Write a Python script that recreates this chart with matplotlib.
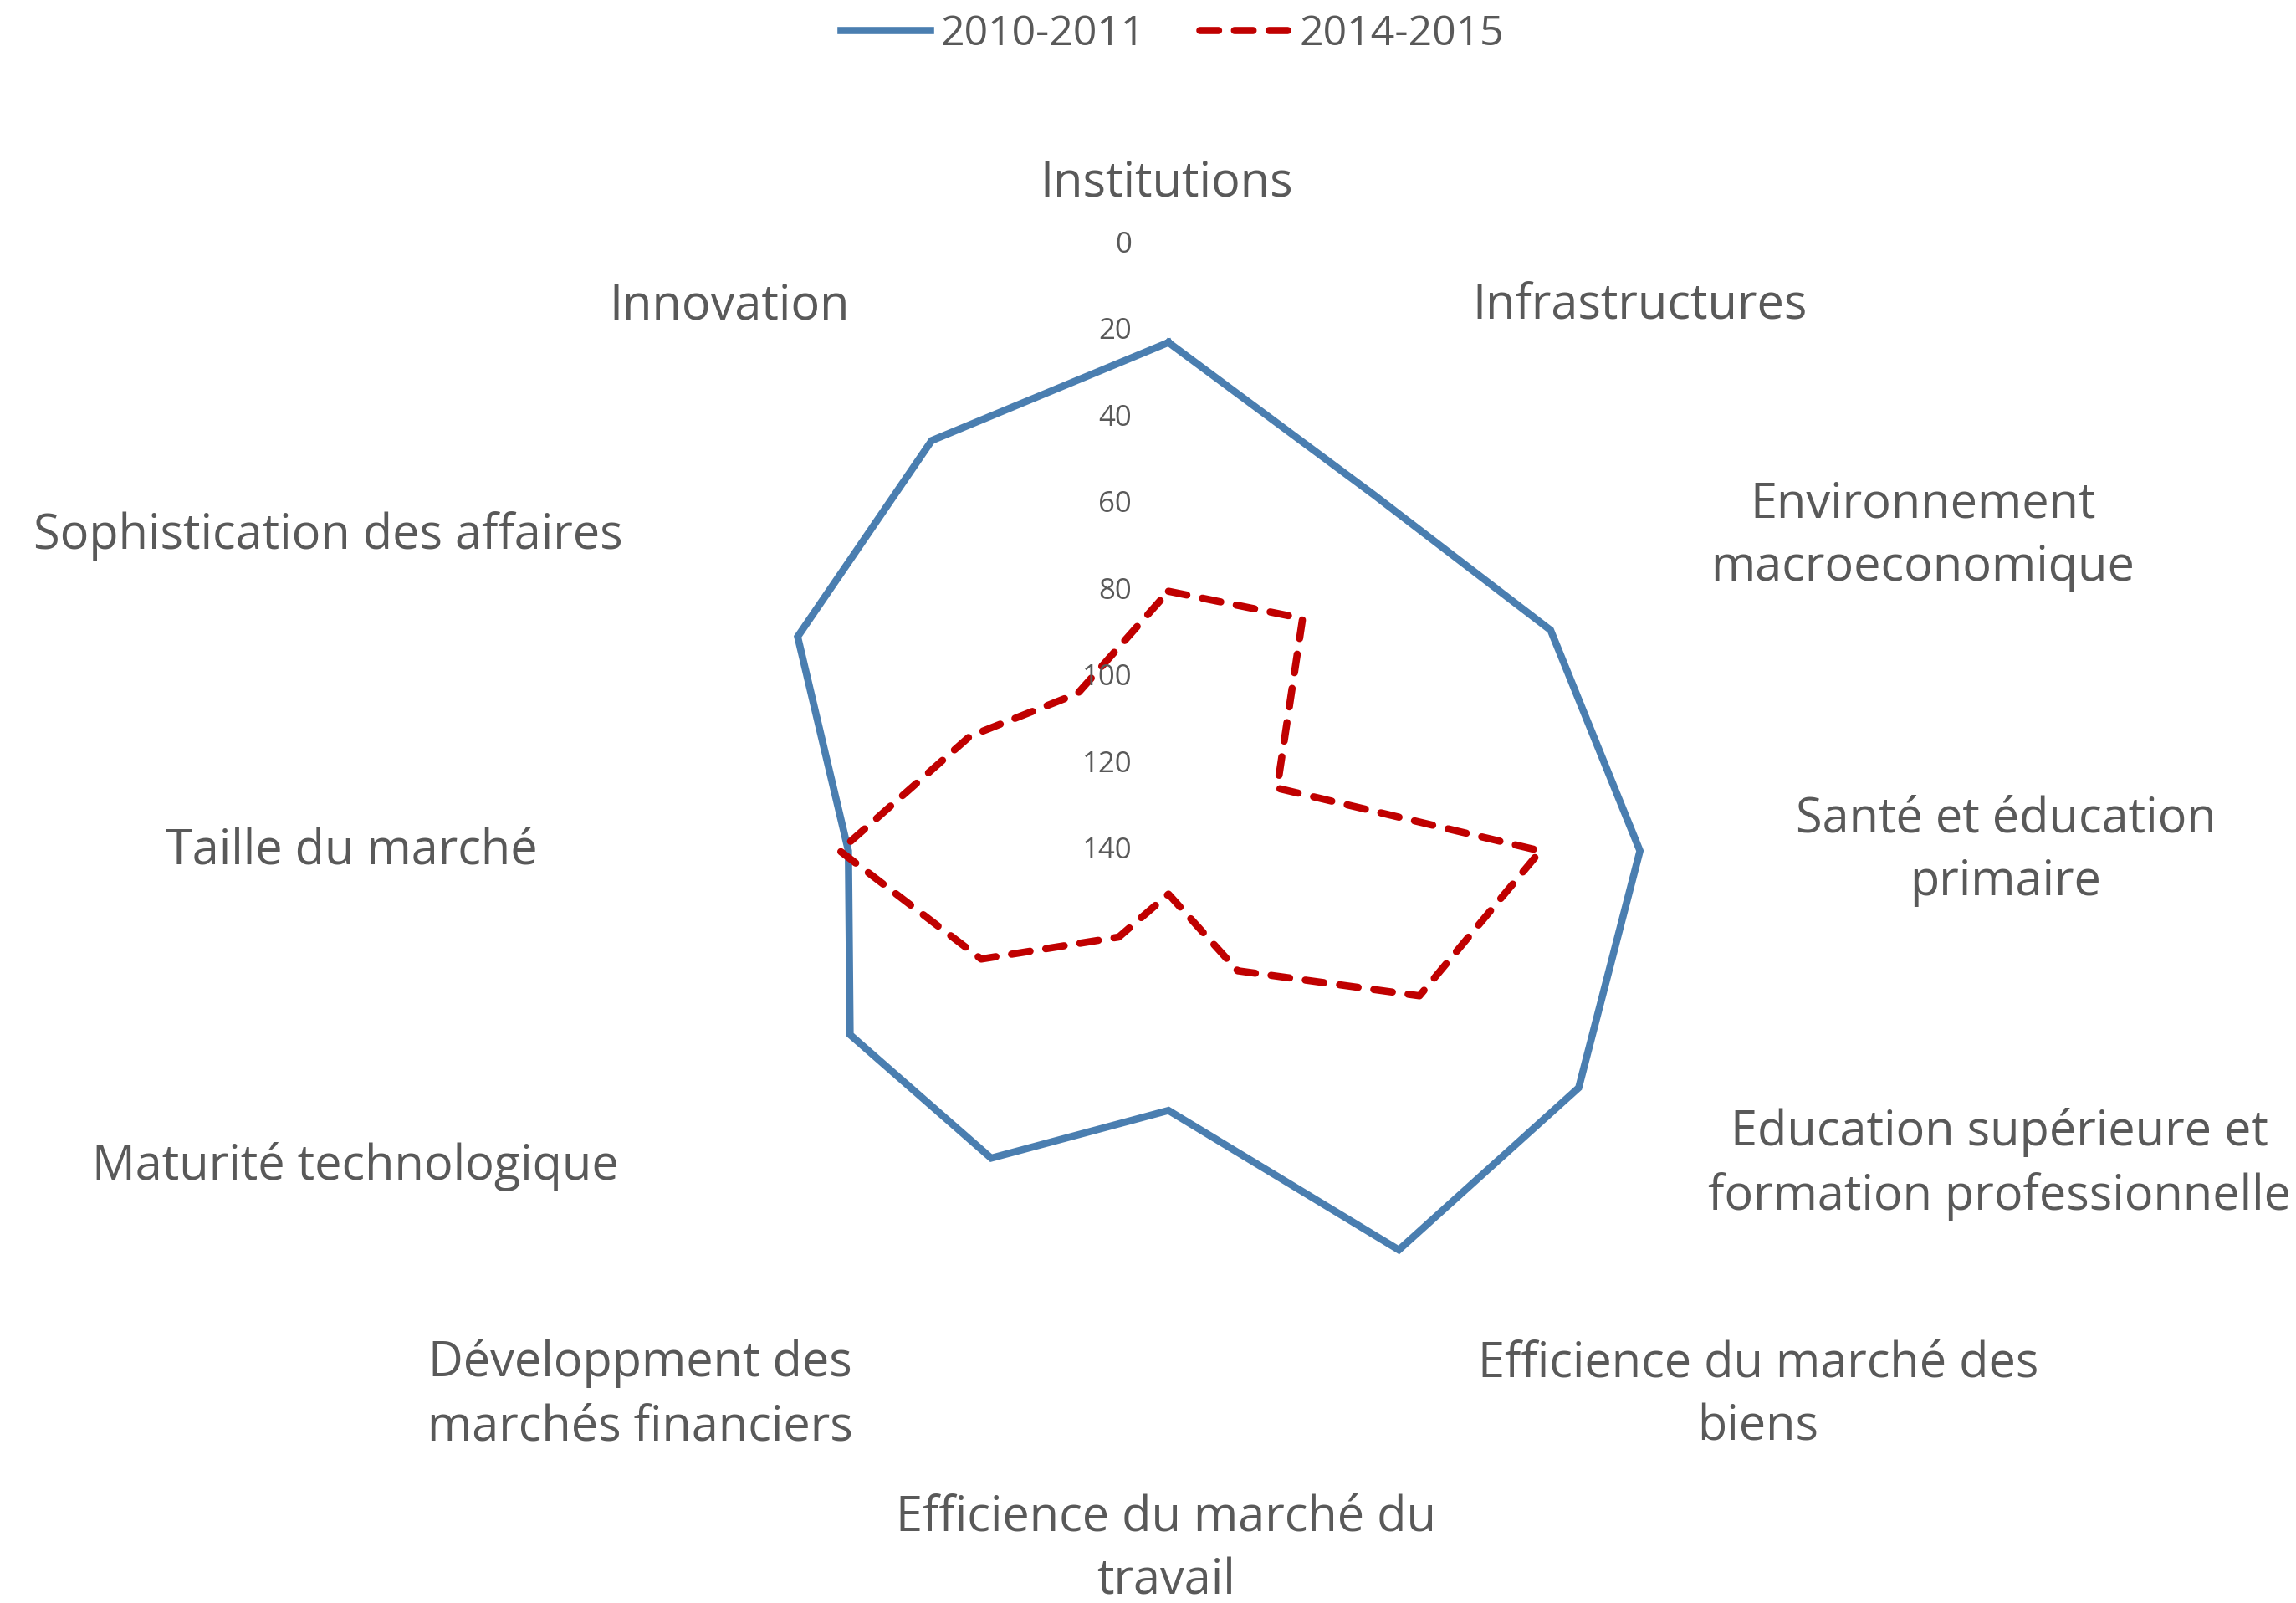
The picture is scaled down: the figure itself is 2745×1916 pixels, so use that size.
import numpy as np
import matplotlib
matplotlib.use("Agg")
import matplotlib.pyplot as plt
from matplotlib.transforms import offset_copy

plt.rcParams["font.family"] = ["Open Sans", "DejaVu Sans"]

categories = [
    "Institutions", "Infrastructures", "Environnement\nmacroeconomique",
    "Santé et éducation\nprimaire", "Education supérieure et\nformation professionnelle",
    "Efficience du marché des\nbiens", "Efficience du marché du\ntravail",
    "Développment des\nmarchés financiers", "Maturité technologique",
    "Taille du marché", "Sophistication des affaires", "Innovation",
]
rank_2010 = [22.5, 45, 38, 31, 30.5, 33.5, 80, 58, 55, 66, 41, 30.5]
rank_2015 = [80, 78, 111, 54, 73, 108, 130, 117, 90, 64, 87, 98]
series_names = ["2010-2011", "2014-2015"]
axis_ticks = [0, 20, 40, 60, 80, 100, 120, 140]
axis_max = 140

# where the category labels sit (figure pixels, from top-left)
label_pos = [
    (1395, 219), (1961, 366), (2299, 641), (2398, 1017), (2390, 1392),
    (2102, 1668), (1394, 1852), (765, 1668), (425, 1394), (420, 1017),
    (392, 641), (872, 366),
]

W, H = 2745, 1916
fig = plt.figure(figsize=(W / 100, H / 100), dpi=100)
cx, cy, rad = 1397, 1017, 724
ax = fig.add_axes([(cx - rad) / W, 1 - (cy + rad) / H, 2 * rad / W, 2 * rad / H],
                  projection="polar")
ax.set_theta_zero_location("N")
ax.set_theta_direction(-1)
ax.set_ylim(0, axis_max)
ax.grid(False)
ax.spines["polar"].set_visible(False)
ax.set_xticks([])
ax.set_yticks([])
ax.patch.set_alpha(0)

n = len(categories)
theta = np.linspace(0, 2 * np.pi, n, endpoint=False)
th = np.append(theta, theta[0])

r1 = axis_max - np.array(rank_2010 + rank_2010[:1])
r2 = axis_max - np.array(rank_2015 + rank_2015[:1])
l1, = ax.plot(th, r1, color="#4A7EB0", lw=6.2, solid_joinstyle="miter",
              label=series_names[0], clip_on=False)
l2, = ax.plot(th, r2, color="#C00000", lw=6.2, ls=(0, (2.6, 2.2)),
              dash_capstyle="round", label=series_names[1], clip_on=False)

tick_tr = offset_copy(ax.transData, fig=fig, x=-44, y=0, units="dots")
for t in axis_ticks:
    ax.text(0, axis_max - t, str(t), transform=tick_tr, ha="right", va="center",
            fontsize=25, color="#595959")

for lab, (px, py) in zip(categories, label_pos):
    fig.text(px / W, 1 - py / H, lab, ha="center", va="center", fontsize=41.5,
             color="#595959", linespacing=1.4)

fig.legend(handles=[l1, l2], loc="center", bbox_to_anchor=(0.5106, 1 - 41 / H),
           ncol=2, frameon=False, fontsize=36, labelcolor="#595959",
           handlelength=2.15, handletextpad=0.25, columnspacing=1.3)

fig.savefig("out.png", dpi=100, facecolor="white")
